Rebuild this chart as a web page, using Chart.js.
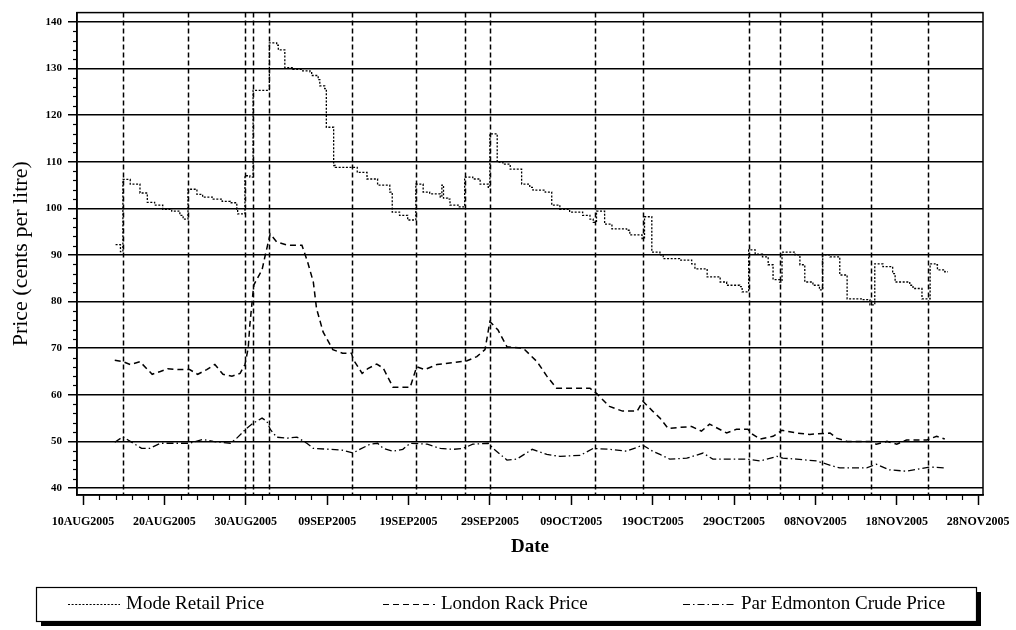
<!DOCTYPE html>
<html>
<head>
<meta charset="utf-8">
<script src="https://cdn.jsdelivr.net/npm/chart.js@4.4.0/dist/chart.umd.min.js"></script>
<style>
  html, body { margin: 0; padding: 0; background: #fff; }
</style>
</head>
<body>
<canvas id="priceChart" width="1016" height="630"></canvas>
<script>
// day 0 = 10AUG2005
const tickDays = [0, 10, 20, 30, 40, 50, 60, 70, 80, 90, 100, 110];
const tickLabels = ["10AUG2005", "20AUG2005", "30AUG2005", "09SEP2005", "19SEP2005", "29SEP2005",
  "09OCT2005", "19OCT2005", "29OCT2005", "08NOV2005", "18NOV2005", "28NOV2005"];
const priceTicks = [40, 50, 60, 70, 80, 90, 100, 110, 120, 130, 140];

// dashed reference lines (days)
const refDays = [4.9, 12.9, 19.9, 20.9, 22.9, 33.0, 40.9, 47.0, 50.0, 62.9, 68.8, 81.8, 85.7, 90.8, 96.8, 103.8];

const retailDays = [4, 4.6, 4.9, 5.8, 7.0, 7.9, 8.8, 9.8, 10.9, 11.9, 12.3, 12.9, 14.0, 14.7, 16.0, 17.1, 18.1,
  18.9, 19.0, 19.9, 20.5, 20.9, 22.9, 23.8, 24.0, 24.8, 25.8, 26.9, 27.9, 28.1, 28.9, 29.1, 29.7, 29.9, 30.8,
  31.0, 33.7, 34.9, 36.2, 37.7, 38.0, 38.9, 39.9, 40.9, 41.8, 42.6, 43.9, 44.1, 44.3, 44.8, 45.1, 46.1, 46.9,
  47.9, 48.8, 49.8, 50.0, 50.9, 51.6, 52.5, 53.9, 54.9, 55.3, 56.8, 57.6, 58.6, 59.8, 61.4, 62.3, 62.7, 63.1,
  64.1, 65.0, 66.8, 67.2, 68.7, 69.0, 69.9, 70.9, 71.3, 73.3, 74.8, 75.2, 76.7, 78.3, 79.1, 80.7, 81.0, 81.8,
  82.6, 83.5, 84.2, 84.8, 85.6, 85.9, 87.5, 88.1, 88.7, 89.7, 90.5, 90.9, 91.8, 93.0, 93.9, 95.8, 96.7, 97.3,
  98.3, 99.5, 99.8, 101.6, 102.0, 103.1, 104.1, 104.7, 105.0, 105.9, 106.3];
const retailPrice = [92.2, 90.7, 106.2, 105.2, 103.3, 101.3, 100.7, 99.8, 99.4, 98.5, 97.7, 104.1, 103, 102.4, 102, 101.5, 101.2,
  99.8, 98.8, 107, 106.7, 125.3, 135.5, 135, 134, 130.2, 129.8, 129.5, 129.3, 128.5, 127.6, 126.3, 125.7, 117.4, 109.2,
  108.8, 107.7, 106.3, 105, 103.5, 99.2, 98.5, 97.5, 105.2, 103.5, 103.1, 102.4, 105, 102.2, 102, 100.7, 100.3, 106.7,
  106.3, 105.2, 104.5, 116, 109.9, 109.5, 108.4, 105.2, 104.5, 103.9, 103.5, 100.7, 99.8, 99.2, 98.5, 97.7, 97, 99.4,
  96.6, 95.6, 95.3, 94.3, 93.5, 98.2, 90.6, 90, 89.2, 88.9, 88.1, 87, 85.3, 84.2, 83.5, 83.2, 82.1, 91.1,
  90.2, 89.6, 87.9, 84.7, 84.2, 90.6, 90, 87.9, 84.2, 83.5, 82.5, 90, 89.6, 85.7, 80.6, 80.4, 79.3, 88.1,
  87.5, 86, 84.2, 83.5, 82.8, 80.6, 88.1, 87.9, 86.8, 86.4, 86.4];

const rackDays = [3.9, 4.9, 5.8, 7.0, 8.5, 9.5, 10.4, 11.9, 13.1, 14.1, 15.2, 16.2, 17.2, 18.3, 19.3, 19.9, 20.3, 20.5,
  20.9, 21.0, 22.0, 22.4, 23.0, 23.8, 25.1, 26.9, 27.6, 28.3, 28.7, 29.5, 30.7, 31.9, 33.0, 33.2, 34.3, 35.0, 36.1,
  36.9, 38.1, 40.2, 41.0, 42.0, 43.5, 45.5, 47.2, 48.4, 49.4, 50.0, 51.0, 52.1, 54.1, 55.8, 57.0, 58.2, 62.3, 63.1,
  64.7, 66.3, 68.1, 68.8, 70.0, 70.9, 71.9, 74.8, 76.0, 77.0, 79.1, 80.3, 81.7, 82.3, 83.2, 84.8, 85.9, 87.7, 89.3,
  91.8, 92.6, 93.9, 96.7, 97.5, 98.8, 100.0, 101.2, 103.7, 104.9, 105.9];
const rackPrice = [67.4, 67.1, 66.5, 67.1, 64.4, 65, 65.6, 65.4, 65.4, 64.4, 65.4, 66.5, 64.4, 64, 64.6, 66.5, 70, 75,
  82.1, 83.6, 86.8, 90, 94.5, 92.8, 92.1, 92.1, 88.5, 84.2, 78.5, 73.5, 69.7, 68.9, 68.9, 67.6, 64.6, 65.6, 66.6,
  65.7, 61.6, 61.6, 66, 65.4, 66.5, 66.9, 67.3, 68.2, 69.7, 75.7, 73.9, 70.3, 70, 67.1, 64, 61.4, 61.4, 60.3,
  57.5, 56.5, 56.5, 58.6, 56.5, 55, 52.8, 53.2, 52.2, 53.7, 51.8, 52.6, 52.6, 51.5, 50.5, 51.1, 52.4, 51.8, 51.5,
  51.8, 50.7, 50, 50, 49.4, 50, 49.4, 50.3, 50.3, 51.1, 50.5];

const crudeDays = [3.9, 4.9, 7.2, 8.2, 9.5, 11.9, 13.1, 14.7, 16.0, 18.1, 18.9, 20.1, 20.9, 22.0, 22.6, 23.0, 23.8,
  25.1, 26.3, 27.5, 28.3, 30.3, 31.9, 33.2, 34.0, 35.3, 36.2, 36.9, 38.1, 39.3, 40.2, 42.3, 43.9, 45.5, 46.7, 47.9,
  49.8, 50.4, 52.1, 53.3, 55.2, 57.0, 58.6, 61.1, 62.7, 64.7, 66.8, 68.8, 70.0, 70.9, 72.1, 74.2, 76.2, 77.4, 79.5,
  81.6, 83.2, 85.3, 86.0, 87.7, 90.2, 91.4, 93.0, 96.3, 97.5, 99.1, 101.2, 102.8, 104.1, 105.9];
const crudePrice = [49.8, 51, 48.5, 48.5, 49.6, 49.6, 49.6, 50.4, 50, 49.6, 50.7, 52.8, 53.9, 55, 54.3, 52.6, 50.9,
  50.7, 50.9, 49.6, 48.5, 48.3, 48.1, 47.5, 48.3, 49.4, 49.6, 48.5, 47.9, 48.3, 49.6, 49.4, 48.5, 48.3, 48.5, 49.4,
  49.6, 48.5, 46, 46.2, 48.3, 47.2, 46.8, 47, 48.5, 48.3, 47.9, 49.2, 47.9, 47.2, 46.2, 46.4, 47.5, 46.2, 46.2,
  46.2, 45.8, 46.8, 46.4, 46.2, 45.8, 45.1, 44.3, 44.3, 45.1, 43.9, 43.6, 44.1, 44.5, 44.3];

const seriesNames = ["Mode Retail Price", "London Rack Price", "Par Edmonton Crude Price"];
const seriesDash = [[2, 1.6], [6, 4], [7, 3, 1.5, 3]];

const toPoints = (days, values) => days.map((d, i) => ({ x: d, y: values[i] }));

const serif = "'Liberation Serif', 'DejaVu Serif', serif";

const chartDecor = {
  id: "chartDecor",
  beforeDatasetsDraw(chart) {
    const { ctx, chartArea, scales } = chart;
    ctx.save();
    ctx.strokeStyle = "#000";
    ctx.lineWidth = 1.5;
    ctx.setLineDash([5, 3]);
    refDays.forEach((d) => {
      const x = Math.round(scales.x.getPixelForValue(d)) + 0.5;
      ctx.beginPath();
      ctx.moveTo(x, chartArea.top);
      ctx.lineTo(x, chartArea.bottom);
      ctx.stroke();
    });
    ctx.restore();
  },
  afterDraw(chart) {
    const { ctx, chartArea, scales } = chart;
    ctx.save();
    ctx.strokeStyle = "#000";
    ctx.setLineDash([]);
    // frame
    ctx.lineWidth = 1.5;
    ctx.strokeRect(chartArea.left, chartArea.top, chartArea.right - chartArea.left, chartArea.bottom - chartArea.top);
    // minor ticks
    ctx.lineWidth = 1.2;
    for (let d = 2; d < 110; d += 2) {
      if (d % 10 === 0) continue;
      const x = Math.round(scales.x.getPixelForValue(d)) + 0.5;
      ctx.beginPath();
      ctx.moveTo(x, chartArea.bottom);
      ctx.lineTo(x, chartArea.bottom + 5);
      ctx.stroke();
    }
    for (let v = 42; v < 140; v += 2) {
      if (v % 10 === 0) continue;
      const y = Math.round(scales.y.getPixelForValue(v)) + 0.5;
      ctx.beginPath();
      ctx.moveTo(chartArea.left - 4, y);
      ctx.lineTo(chartArea.left, y);
      ctx.stroke();
    }

    // legend box with shadow
    const bx = 36, by = 587, bw = 940, bh = 34;
    ctx.fillStyle = "#000";
    ctx.fillRect(bx + 5, by + 5, bw, bh);
    ctx.fillStyle = "#fff";
    ctx.fillRect(bx, by, bw, bh);
    ctx.lineWidth = 1.2;
    ctx.strokeRect(bx + 0.5, by + 0.5, bw, bh);

    const sampleX = [68, 383, 683];
    const midY = by + bh / 2 + 0.5;
    ctx.font = "19px " + serif;
    ctx.textBaseline = "middle";
    ctx.fillStyle = "#000";
    seriesNames.forEach((name, i) => {
      ctx.setLineDash(seriesDash[i]);
      ctx.lineWidth = 1.2;
      ctx.beginPath();
      ctx.moveTo(sampleX[i], midY);
      ctx.lineTo(sampleX[i] + 52, midY);
      ctx.stroke();
      ctx.setLineDash([]);
      ctx.fillText(name, sampleX[i] + 58, midY);
    });
    ctx.restore();
  },
};

const lineStyle = (i) => ({
  borderColor: "#000",
  borderWidth: 1.3,
  borderDash: seriesDash[i],
  pointRadius: 0,
  fill: false,
  tension: 0,
});

new Chart(document.getElementById("priceChart"), {
  type: "line",
  data: {
    datasets: [
      { label: seriesNames[0], data: toPoints(retailDays, retailPrice), stepped: "before", ...lineStyle(0) },
      { label: seriesNames[1], data: toPoints(rackDays, rackPrice), ...lineStyle(1), borderWidth: 1.5 },
      { label: seriesNames[2], data: toPoints(crudeDays, crudePrice), ...lineStyle(2) },
    ],
  },
  options: {
    responsive: false,
    animation: false,
    layout: { padding: { top: 10, right: 33, left: 0, bottom: 0 } },
    plugins: {
      legend: { display: false },
      tooltip: { enabled: false },
    },
    scales: {
      x: {
        type: "linear",
        min: -0.74,
        max: 110.6,
        afterBuildTicks: (scale) => {
          scale.ticks = tickDays.map((v) => ({ value: v }));
        },
        afterFit: (scale) => {
          scale.height = 135;
          scale.paddingLeft = 0;
          scale.paddingRight = 0;
        },
        grid: {
          display: true,
          drawOnChartArea: false,
          drawTicks: true,
          tickLength: 10,
          tickWidth: 1.5,
          tickColor: "#000",
        },
        border: { display: true, color: "#000", width: 1.5 },
        ticks: {
          autoSkip: false,
          maxRotation: 0,
          padding: 10,
          color: "#000",
          font: { family: serif, size: 12, weight: "bold" },
          callback: (value) => tickLabels[tickDays.indexOf(value)],
        },
        title: {
          display: true,
          text: "Date",
          color: "#000",
          font: { family: serif, size: 19, weight: "bold" },
          padding: { top: 0, bottom: 72 },
        },
      },
      y: {
        type: "linear",
        min: 38.5,
        max: 142,
        afterBuildTicks: (scale) => {
          scale.ticks = priceTicks.map((v) => ({ value: v }));
        },
        afterFit: (scale) => {
          scale.width = 77;
        },
        grid: {
          color: "#000",
          lineWidth: 1.5,
          drawTicks: true,
          tickLength: 9,
          tickColor: "#000",
        },
        border: { display: true, color: "#000", width: 1.5 },
        ticks: {
          padding: 6,
          color: "#000",
          font: { family: serif, size: 11, weight: "bold" },
        },
        title: {
          display: true,
          text: "Price (cents per litre)",
          color: "#000",
          font: { family: serif, size: 22 },
          padding: { top: 8, bottom: 0 },
        },
      },
    },
  },
  plugins: [chartDecor],
});
</script>
</body>
</html>
